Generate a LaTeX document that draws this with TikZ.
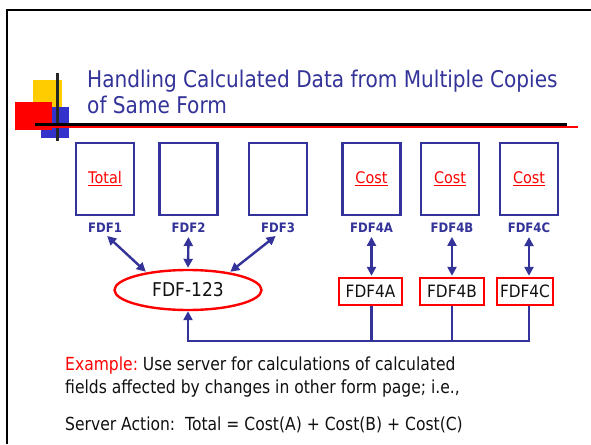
\documentclass[tikz,border=0pt]{standalone}
\usepackage{fontspec}
\setmainfont{DejaVu Sans}[FakeStretch=0.9]
\newfontfamily\titlefont{DejaVu Sans}[FakeStretch=0.874]
\newfontfamily\bodyfont{DejaVu Sans}[FakeStretch=0.865]
\usetikzlibrary{shapes.geometric,arrows.meta}
\definecolor{navy}{RGB}{51,51,153}
\definecolor{myred}{RGB}{255,0,0}
\definecolor{myyellow}{RGB}{255,204,0}
\definecolor{myblue}{RGB}{51,51,204}
\definecolor{ink}{RGB}{17,17,17}
\frenchspacing
\begin{document}
\begin{tikzpicture}[x=1pt,y=-1pt,
  page/.style={draw=navy,line width=2.4pt,minimum width=58pt,minimum height=72pt,inner sep=0pt},
  fdflabel/.style={text=navy,font=\fontsize{13}{15}\selectfont\bfseries,inner sep=1pt},
  costtext/.style={text=myred,font=\fontsize{16}{18}\selectfont},
  smallbox/.style={draw=myred,line width=2.4pt,minimum height=27pt,inner sep=3pt,text=ink,font=\fontsize{17}{19}\selectfont},
  conn/.style={draw=navy,line width=2.4pt},
  dbl/.style={conn,{Triangle[length=9pt,width=9pt]}-{Triangle[length=9pt,width=9pt]},shorten <=3pt,shorten >=1pt},
  body/.style={anchor=base west,inner sep=0pt,text=ink,font=\bodyfont\fontsize{18}{20}\selectfont}
]
\useasboundingbox (0,0) rectangle (591,444);
\fill[white] (0,0) rectangle (591,444);
% frame
\draw[line width=2.5pt,black] (7,444) -- (7,10) -- (591,10);
% logo squares
\fill[myyellow] (33,80) rectangle (62,110);
\fill[myblue] (41,107) rectangle (69,138);
\fill[myred] (15,102) rectangle (52,130);
\draw[line width=3pt,black!85] (57,73) -- (57,141);
% title rules
\draw[line width=2pt,myred] (35,127) -- (578,127);
\draw[line width=3pt,black] (35,124) -- (567,124);
% title
\node[anchor=base west,inner sep=0pt,text=navy,font=\titlefont\fontsize{23}{26}\selectfont] (t1) at (87,87) {Handling Calculated Data from Multiple Copies};
\node[anchor=base west,inner sep=0pt,text=navy,font=\titlefont\fontsize{23}{26}\selectfont] (t2) at (87,113) {of Same Form};
% pages
\node[page] (p1) at (105,179) {};
\node[page] (p2) at (188.5,179) {};
\node[page] (p3) at (278,179) {};
\node[page] (p4) at (371.5,179) {};
\node[page] (p5) at (450,179) {};
\node[page] (p6) at (529,179) {};
\node[costtext] (c1) at (p1) {\underline{Total}};
\node[costtext] (c4) at (p4) {\underline{Cost}};
\node[costtext] (c5) at (p5) {\underline{Cost}};
\node[costtext] (c6) at (p6) {\underline{Cost}};
% labels
\node[fdflabel] (l1) at (105,228) {FDF1};
\node[fdflabel] (l2) at (188.5,228) {FDF2};
\node[fdflabel] (l3) at (278,228) {FDF3};
\node[fdflabel] (l4) at (371.5,228) {FDF4A};
\node[fdflabel] (l5) at (452,228) {FDF4B};
\node[fdflabel] (l6) at (529,228) {FDF4C};
% ellipse
\node[ellipse,draw=myred,line width=2.4pt,minimum width=147pt,minimum height=40pt,inner sep=0pt,text=ink,font=\fontsize{19}{21}\selectfont] (e) at (188,290) {FDF-123};
% small boxes
\node[smallbox,minimum width=63pt] (b4) at (370.5,291.5) {FDF4A};
\node[smallbox,minimum width=64pt] (b5) at (452,291.5) {FDF4B};
\node[smallbox,minimum width=55pt] (b6) at (525,291.5) {FDF4C};
% arrows
\draw[dbl] (l1.south) -- (e.157);
\draw[dbl] (l2.south) -- (e.north);
\draw[dbl] (l3.south) -- (e.23);
\draw[dbl] (l4.south) -- (b4.north -| l4);
\draw[dbl] (l5.south) -- (b5.north -| l5);
\draw[dbl] (l6.south) -- (b6.north -| l6);
% bus
\coordinate (bus) at (0,341);
\draw[conn] (b4.south -| l4) -- (bus -| l4);
\draw[conn] (b5.south -| l5) -- (bus -| l5);
\draw[conn,-{Triangle[length=9pt,width=9pt]}] (b6.south -| l6) |- (bus -| e.south) -- (e.south);
% body text
\node[body] (x1) at (65,370) {\textcolor{myred}{Example:} Use server for calculations of calculated};
\node[body] (x2) at (65,393) {fields affected by changes in other form page; i.e.,};
\node[body] (x3) at (65,430) {Server Action:\ \ Total = Cost(A) + Cost(B) + Cost(C)};
\end{tikzpicture}
\end{document}
